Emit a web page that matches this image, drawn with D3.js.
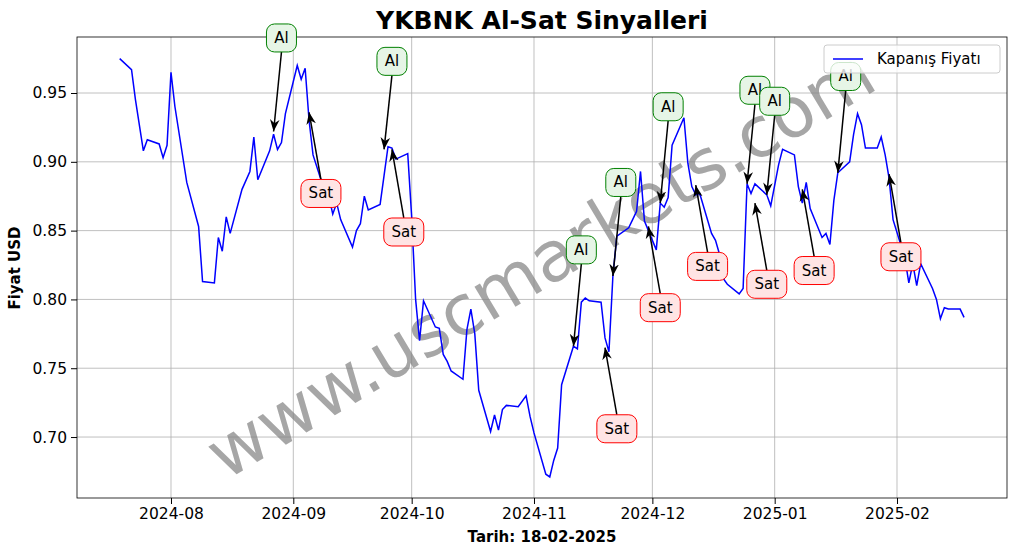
<!DOCTYPE html><html><head><meta charset="utf-8">
<script src="https://cdn.jsdelivr.net/npm/d3@7"></script>
<style>body{margin:0;background:#fff;font-family:"DejaVu Sans",sans-serif}</style></head><body>
<svg id="c" width="1017" height="554"></svg>
<script>
const dates=["2024-07-19","2024-07-22","2024-07-23","2024-07-25","2024-07-26","2024-07-29","2024-07-30","2024-07-31","2024-08-01","2024-08-02","2024-08-05","2024-08-08","2024-08-09","2024-08-12","2024-08-13","2024-08-14","2024-08-15","2024-08-16","2024-08-19","2024-08-21","2024-08-22","2024-08-23","2024-08-26","2024-08-27","2024-08-28","2024-08-29","2024-08-30","2024-09-02","2024-09-03","2024-09-04","2024-09-05","2024-09-06","2024-09-09","2024-09-10","2024-09-11","2024-09-12","2024-09-13","2024-09-16","2024-09-17","2024-09-18","2024-09-19","2024-09-20","2024-09-23","2024-09-24","2024-09-25","2024-09-26","2024-09-27","2024-09-30","2024-10-01","2024-10-02","2024-10-03","2024-10-04","2024-10-07","2024-10-08","2024-10-09","2024-10-10","2024-10-11","2024-10-14","2024-10-15","2024-10-16","2024-10-17","2024-10-18","2024-10-21","2024-10-22","2024-10-23","2024-10-24","2024-10-25","2024-10-28","2024-10-30","2024-10-31","2024-11-01","2024-11-04","2024-11-05","2024-11-06","2024-11-07","2024-11-08","2024-11-11","2024-11-12","2024-11-13","2024-11-14","2024-11-15","2024-11-18","2024-11-19","2024-11-20","2024-11-21","2024-11-22","2024-11-25","2024-11-26","2024-11-27","2024-11-28","2024-11-29","2024-12-02","2024-12-03","2024-12-04","2024-12-05","2024-12-06","2024-12-09","2024-12-10","2024-12-11","2024-12-12","2024-12-13","2024-12-16","2024-12-17","2024-12-18","2024-12-19","2024-12-20","2024-12-23","2024-12-24","2024-12-25","2024-12-26","2024-12-27","2024-12-30","2024-12-31","2025-01-02","2025-01-03","2025-01-06","2025-01-07","2025-01-08","2025-01-09","2025-01-10","2025-01-13","2025-01-14","2025-01-15","2025-01-16","2025-01-17","2025-01-20","2025-01-21","2025-01-22","2025-01-23","2025-01-24","2025-01-27","2025-01-28","2025-01-29","2025-01-30","2025-01-31","2025-02-03","2025-02-04","2025-02-05","2025-02-06","2025-02-07","2025-02-10","2025-02-11","2025-02-12","2025-02-13","2025-02-14","2025-02-17","2025-02-18"];
const prices=[0.975,0.967,0.945,0.908,0.916,0.913,0.903,0.912,0.965,0.940,0.885,0.853,0.813,0.812,0.845,0.835,0.860,0.848,0.880,0.893,0.918,0.887,0.908,0.920,0.909,0.914,0.935,0.970,0.960,0.968,0.930,0.905,0.878,0.875,0.862,0.870,0.858,0.838,0.850,0.855,0.875,0.865,0.869,0.890,0.911,0.910,0.902,0.906,0.860,0.800,0.770,0.799,0.780,0.779,0.760,0.755,0.748,0.742,0.778,0.793,0.775,0.734,0.704,0.716,0.705,0.720,0.723,0.722,0.730,0.715,0.703,0.673,0.671,0.683,0.692,0.738,0.766,0.764,0.798,0.801,0.799,0.798,0.772,0.762,0.817,0.846,0.852,0.858,0.864,0.893,0.857,0.836,0.870,0.867,0.874,0.912,0.932,0.899,0.882,0.876,0.877,0.848,0.843,0.833,0.815,0.811,0.804,0.808,0.884,0.877,0.884,0.876,0.868,0.898,0.909,0.905,0.882,0.870,0.885,0.866,0.845,0.848,0.840,0.872,0.892,0.900,0.920,0.935,0.927,0.910,0.910,0.918,0.905,0.888,0.858,0.830,0.812,0.826,0.810,0.826,0.808,0.800,0.786,0.794,0.793,0.793,0.787];
const alTip=[["2024-08-27",0.922],["2024-09-24",0.909],["2024-11-11",0.766],["2024-11-21",0.817],["2024-12-03",0.870],["2024-12-25",0.884],["2024-12-30",0.876],["2025-01-17",0.892]];
const alText=[["2024-08-29",0.990],["2024-09-26",0.973],["2024-11-13",0.836],["2024-11-23",0.885],["2024-12-05",0.940],["2024-12-27",0.952],["2025-01-01",0.944],["2025-01-19",0.962]];
const satTip=[["2024-09-05",0.936],["2024-09-26",0.909],["2024-11-19",0.765],["2024-11-30",0.853],["2024-12-12",0.883],["2024-12-27",0.870],["2025-01-08",0.880],["2025-01-30",0.891]];
const satText=[["2024-09-08",0.877],["2024-09-29",0.849],["2024-11-22",0.706],["2024-12-03",0.794],["2024-12-15",0.824],["2024-12-30",0.811],["2025-01-11",0.821],["2025-02-02",0.831]];
const yTicks=[0.70,0.75,0.80,0.85,0.90,0.95];
const xTicks=["2024-08-01","2024-09-01","2024-10-01","2024-11-01","2024-12-01","2025-01-01","2025-02-01"];

const P=d3.timeParse("%Y-%m-%d");
const svg=d3.select("#c");
const L=77,R=1007,T=37,B=498;
const DAY=864e5;
const x=d3.scaleTime().domain([new Date(+P("2024-08-01")-23.82*DAY),new Date(+P("2025-02-01")+27.88*DAY)]).range([L,R]);
const y=d3.scaleLinear().domain([0.6557,0.9907]).range([B,T]);
svg.append("g").selectAll("line").data(xTicks).join("line").attr("x1",d=>x(P(d))).attr("x2",d=>x(P(d))).attr("y1",T).attr("y2",B).attr("stroke","#b0b0b0").attr("stroke-width",0.8);
svg.append("g").selectAll("line").data(yTicks).join("line").attr("y1",d=>y(d)).attr("y2",d=>y(d)).attr("x1",L).attr("x2",R).attr("stroke","#b0b0b0").attr("stroke-width",0.8);
const xa=svg.append("g").attr("transform",`translate(0,${B})`).call(d3.axisBottom(x).tickValues(xTicks.map(P)).tickFormat(d3.timeFormat("%Y-%m")).tickSizeOuter(0).tickPadding(4));
const ya=svg.append("g").attr("transform",`translate(${L},0)`).call(d3.axisLeft(y).tickValues(yTicks).tickFormat(d3.format(".2f")).tickSizeOuter(0).tickPadding(4));
[xa,ya].forEach(a=>{a.selectAll("text").attr("font-size",15.5).attr("fill","#000").attr("font-family","DejaVu Sans");a.select(".domain").remove();});
svg.append("rect").attr("x",L).attr("y",T).attr("width",R-L).attr("height",B-T).attr("fill","none").attr("stroke","#000").attr("stroke-width",0.8);
svg.append("text").attr("transform","translate(543,268) rotate(-31)").attr("text-anchor","middle").attr("dominant-baseline","middle").attr("font-size",70).attr("fill","#808080").attr("fill-opacity",0.7).text("www.uscmarkets.com");
svg.append("path").datum(dates.map((d,i)=>[P(d),prices[i]])).attr("fill","none").attr("stroke","#0000ff").attr("stroke-width",1.5).attr("d",d3.line().x(d=>x(d[0])).y(d=>y(d[1])));
svg.append("defs").append("marker").attr("id","ah").attr("viewBox","0 0 10 10").attr("refX",10).attr("refY",5).attr("markerWidth",8).attr("markerHeight",8).attr("orient","auto-start-reverse").append("path").attr("d","M0,1 L10,5 L0,9 L3,5 Z").attr("fill","#000");
function ann(tips,texts,label,stroke,fill){
  tips.forEach((t,i)=>{
    const tx=x(P(texts[i][0])),ty=y(texts[i][1]),px=x(P(t[0])),py=y(t[1]);
    const dir=py>ty?1:-1;
    svg.append("line").attr("x1",tx).attr("y1",ty+dir*14).attr("x2",px).attr("y2",py).attr("stroke","#000").attr("stroke-width",1.5).attr("marker-end","url(#ah)");
    const w=label==="Al"?30:40;
    svg.append("rect").attr("x",tx-w/2).attr("y",ty-14).attr("width",w).attr("height",28).attr("rx",8).attr("fill",fill).attr("stroke",stroke);
    svg.append("text").attr("x",tx).attr("y",ty+5).attr("text-anchor","middle").attr("font-size",15).text(label);
  });
}
ann(alTip,alText,"Al","green","#e6f5e6");
ann(satTip,satText,"Sat","red","#ffe4e4");
const lg=svg.append("g");
lg.append("rect").attr("x",824).attr("y",45).attr("width",176).attr("height",28).attr("rx",3).attr("fill","#fff").attr("fill-opacity",0.8).attr("stroke","#ccc");
lg.append("line").attr("x1",833).attr("x2",863).attr("y1",59).attr("y2",59).attr("stroke","#0000ff").attr("stroke-width",1.5);
lg.append("text").attr("x",877).attr("y",64).attr("font-size",15).text("Kapanış Fiyatı");
svg.append("text").attr("x",542).attr("y",29).attr("text-anchor","middle").attr("font-size",25).attr("font-weight","bold").text("YKBNK Al-Sat Sinyalleri");
svg.append("text").attr("x",542).attr("y",542).attr("text-anchor","middle").attr("font-size",15).attr("font-weight","bold").text("Tarih: 18-02-2025");
svg.append("text").attr("transform","translate(20,268) rotate(-90)").attr("text-anchor","middle").attr("font-size",15).attr("font-weight","bold").text("Fiyat USD");
</script></body></html>
